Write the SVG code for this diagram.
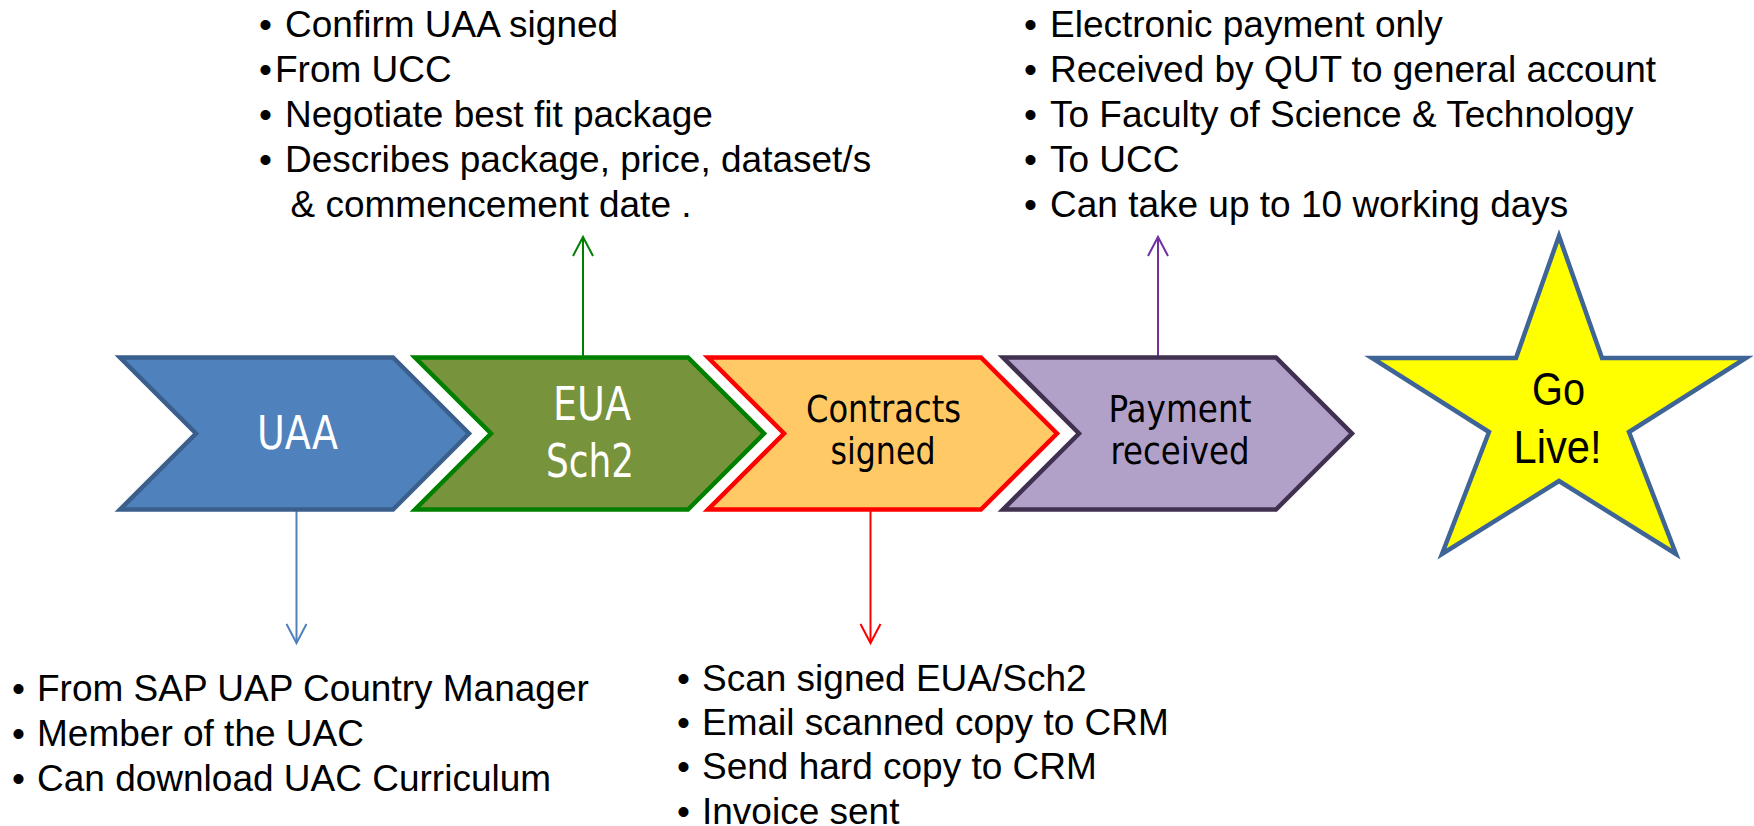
<svg xmlns="http://www.w3.org/2000/svg" width="1754" height="826" viewBox="0 0 1754 826">
<style>
.bul{font-family:"Liberation Sans",Arial,sans-serif;font-size:37px;fill:#000}
.chev{stroke-width:4.5;stroke-linejoin:miter;stroke-miterlimit:10}
.ct{font-family:"DejaVu Sans Condensed","Liberation Sans Narrow","DejaVu Sans",sans-serif;font-stretch:condensed;text-anchor:middle}
.big{font-size:46px}
.mid{font-size:38px}
.star{font-family:"Liberation Sans",Arial,sans-serif;font-size:46px;text-anchor:middle}
.conn{fill:none;stroke-width:2}
</style>
<defs>
<marker id="ah-blue" markerUnits="userSpaceOnUse" markerWidth="30" markerHeight="30" refX="0" refY="0" orient="auto" overflow="visible"><path d="M-19,-10 L0,0 L-19,10" fill="none" stroke="#4F81BD" stroke-width="2"/></marker>
<marker id="ah-green" markerUnits="userSpaceOnUse" markerWidth="30" markerHeight="30" refX="0" refY="0" orient="auto" overflow="visible"><path d="M-19,-10 L0,0 L-19,10" fill="none" stroke="#008000" stroke-width="2"/></marker>
<marker id="ah-red" markerUnits="userSpaceOnUse" markerWidth="30" markerHeight="30" refX="0" refY="0" orient="auto" overflow="visible"><path d="M-19,-10 L0,0 L-19,10" fill="none" stroke="#FF0000" stroke-width="2"/></marker>
<marker id="ah-purple" markerUnits="userSpaceOnUse" markerWidth="30" markerHeight="30" refX="0" refY="0" orient="auto" overflow="visible"><path d="M-19,-10 L0,0 L-19,10" fill="none" stroke="#7030A0" stroke-width="2"/></marker>
</defs>
<rect width="1754" height="826" fill="#fff"/>
<g id="connectors">
<path class="conn" d="M296.5,511 L296.5,643" stroke="#4F81BD" marker-end="url(#ah-blue)"/>
<path class="conn" d="M583,356 L583,237" stroke="#008000" marker-end="url(#ah-green)"/>
<path class="conn" d="M870.5,511 L870.5,643" stroke="#FF0000" marker-end="url(#ah-red)"/>
<path class="conn" d="M1158,356 L1158,237" stroke="#7030A0" marker-end="url(#ah-purple)"/>
</g>
<g id="node-uaa">
<polygon class="chev" points="120,357.5 393,357.5 469,433.5 393,509.5 120,509.5 196,433.5" fill="#4F81BD" stroke="#3A5F8C"/>
<text class="ct big" x="297.5" y="448.5" fill="#fff" textLength="81" lengthAdjust="spacingAndGlyphs">UAA</text>
</g>
<g id="node-eua">
<polygon class="chev" points="415,357.5 688,357.5 764,433.5 688,509.5 415,509.5 491,433.5" fill="#77933C" stroke="#008000"/>
<text class="ct big" x="592" y="420" fill="#fff" textLength="78" lengthAdjust="spacingAndGlyphs">EUA</text>
<text class="ct big" x="590" y="477" fill="#fff" textLength="88" lengthAdjust="spacingAndGlyphs">Sch2</text>
</g>
<g id="node-contracts">
<polygon class="chev" points="708,357.5 981,357.5 1057,433.5 981,509.5 708,509.5 784,433.5" fill="#FFC966" stroke="#FF0000"/>
<text class="ct mid" x="883.5" y="421.7" fill="#000" textLength="155" lengthAdjust="spacingAndGlyphs">Contracts</text>
<text class="ct mid" x="883" y="464" fill="#000" textLength="105" lengthAdjust="spacingAndGlyphs">signed</text>
</g>
<g id="node-payment">
<polygon class="chev" points="1003,357.5 1276,357.5 1352,433.5 1276,509.5 1003,509.5 1079,433.5" fill="#B1A0C7" stroke="#403151"/>
<text class="ct mid" x="1180" y="421.7" fill="#000" textLength="143" lengthAdjust="spacingAndGlyphs">Payment</text>
<text class="ct mid" x="1180" y="464" fill="#000" textLength="139" lengthAdjust="spacingAndGlyphs">received</text>
</g>
<g id="node-golive">
<polygon points="1559,236 1602,358 1746,358 1629,432 1676,554 1559,481 1442,554 1489,432 1372,358 1516,358" fill="#FFFF00" stroke="#3E6596" stroke-width="4.5" stroke-linejoin="miter" stroke-miterlimit="10"/>
<text class="star" x="1558.5" y="405" fill="#000" textLength="53" lengthAdjust="spacingAndGlyphs">Go</text>
<text class="star" x="1557.5" y="462.7" fill="#000" textLength="88" lengthAdjust="spacingAndGlyphs">Live!</text>
</g>
<g id="notes-eua">
<text class="bul" y="36.7"><tspan x="259">•</tspan><tspan x="285">Confirm UAA signed</tspan></text>
<text class="bul" y="81.7"><tspan x="259">•</tspan><tspan x="275">From UCC</tspan></text>
<text class="bul" y="126.7"><tspan x="259">•</tspan><tspan x="285">Negotiate best fit package</tspan></text>
<text class="bul" y="171.7"><tspan x="259">•</tspan><tspan x="285">Describes package, price, dataset/s</tspan></text>
<text class="bul" x="290.5" y="216.7">&amp; commencement date .</text>
</g>
<g id="notes-payment">
<text class="bul" y="36.7"><tspan x="1024">•</tspan><tspan x="1050">Electronic payment only</tspan></text>
<text class="bul" y="81.7"><tspan x="1024">•</tspan><tspan x="1050">Received by QUT to general account</tspan></text>
<text class="bul" y="126.7"><tspan x="1024">•</tspan><tspan x="1050">To Faculty of Science &amp; Technology</tspan></text>
<text class="bul" y="171.7"><tspan x="1024">•</tspan><tspan x="1050">To UCC</tspan></text>
<text class="bul" y="216.7"><tspan x="1024">•</tspan><tspan x="1050">Can take up to 10 working days</tspan></text>
</g>
<g id="notes-uaa">
<text class="bul" y="701"><tspan x="12">•</tspan><tspan x="37">From SAP UAP Country Manager</tspan></text>
<text class="bul" y="746"><tspan x="12">•</tspan><tspan x="37">Member of the UAC</tspan></text>
<text class="bul" y="791"><tspan x="12">•</tspan><tspan x="37">Can download UAC Curriculum</tspan></text>
</g>
<g id="notes-contracts">
<text class="bul" y="690.7"><tspan x="677">•</tspan><tspan x="702">Scan signed EUA/Sch2</tspan></text>
<text class="bul" y="735"><tspan x="677">•</tspan><tspan x="702">Email scanned copy to CRM</tspan></text>
<text class="bul" y="779.3"><tspan x="677">•</tspan><tspan x="702">Send hard copy to CRM</tspan></text>
<text class="bul" y="823.5"><tspan x="677">•</tspan><tspan x="702">Invoice sent</tspan></text>
</g>
</svg>
